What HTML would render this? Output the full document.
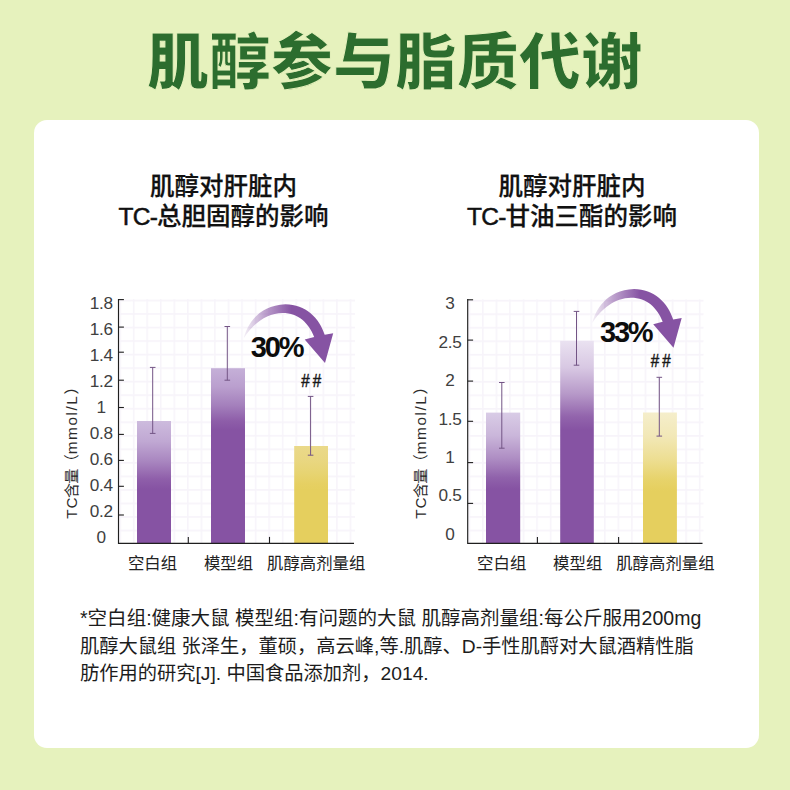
<!DOCTYPE html>
<html lang="zh-CN">
<head>
<meta charset="utf-8">
<title>肌醇参与脂质代谢</title>
<style>
html,body{margin:0;padding:0;}
body{width:790px;height:790px;overflow:hidden;position:relative;background:#e6f2bd;font-family:"Liberation Sans","Noto Sans CJK SC",sans-serif;}
.card{position:absolute;left:34px;top:120.3px;width:725px;height:628px;border-radius:13px;background:#fff;}
h1{position:absolute;left:0;top:17.7px;width:790px;margin:0;padding-left:0.2px;box-sizing:border-box;text-align:center;font-size:61.8px;line-height:90px;font-weight:900;color:#2c6d2e;letter-spacing:0.2px;white-space:nowrap;-webkit-text-stroke:1px #e6f2bd;}
.sub{position:absolute;top:172.4px;-webkit-text-stroke:0.25px #111;width:300px;margin:0;text-align:center;font-size:24.5px;line-height:30px;font-weight:500;color:#111;white-space:nowrap;}
.sub .lat{-webkit-text-stroke:0.5px #111;letter-spacing:-0.7px;}
.sub.l{left:73.5px;}
.sub.r{left:422px;}
.note{position:absolute;left:80px;top:605px;width:660px;margin:0;font-size:19.25px;line-height:27.5px;color:#1c1c1c;white-space:nowrap;font-weight:400;}
.note .n1{font-size:19.53px;}
svg{position:absolute;left:0;top:0;}
svg text{font-family:"Liberation Sans","Noto Sans CJK SC",sans-serif;}
.tk{font-size:17.2px;fill:#404040;letter-spacing:-0.3px;}
.xl{font-size:16.4px;fill:#222;}
.yl{font-size:15.3px;fill:#2b2b2b;}
.pct{font-size:29px;font-weight:700;fill:#0d0d0d;letter-spacing:-2.2px;}
.hs{font-size:18.5px;fill:#1a1a1a;letter-spacing:3.8px;stroke:#1a1a1a;stroke-width:0.5px;}
</style>
</head>
<body>
<div class="card"></div>
<h1>肌醇参与脂质代谢</h1>
<p class="sub l">肌醇对肝脏内<br><span class="lat">TC-</span>总胆固醇的影响</p>
<p class="sub r">肌醇对肝脏内<br><span class="lat">TC-</span>甘油三酯的影响</p>
<svg width="790" height="790" viewBox="0 0 790 790">
<defs>
<pattern id="gridL" x="119.3" y="299.6" width="13.55" height="13.53" patternUnits="userSpaceOnUse"><path d="M0 0H13.55M0 0V13.53" stroke="#f7f4fa" stroke-width="3.2" fill="none"/></pattern>
<pattern id="gridR" x="468.5" y="299.8" width="13.55" height="13.52" patternUnits="userSpaceOnUse"><path d="M0 0H13.55M0 0V13.52" stroke="#f7f4fa" stroke-width="3.2" fill="none"/></pattern>
<filter id="soft" x="-5%" y="-5%" width="110%" height="110%"><feGaussianBlur stdDeviation="0.7"/></filter>
<linearGradient id="arrR" gradientUnits="userSpaceOnUse" x1="592" y1="0" x2="640" y2="0"><stop offset="0" stop-color="#8653a3" stop-opacity="0.08"/><stop offset="0.45" stop-color="#8653a3" stop-opacity="0.55"/><stop offset="1" stop-color="#8653a3" stop-opacity="1"/></linearGradient>
<linearGradient id="arrL" gradientUnits="userSpaceOnUse" x1="592" y1="0" x2="640" y2="0"><stop offset="0" stop-color="#8653a3" stop-opacity="0.08"/><stop offset="0.45" stop-color="#8653a3" stop-opacity="0.55"/><stop offset="1" stop-color="#8653a3" stop-opacity="1"/></linearGradient>
<linearGradient id="bL0" gradientUnits="userSpaceOnUse" x1="0" y1="421" x2="0" y2="489"><stop offset="0" stop-color="#cdbbdd"/><stop offset="0.3" stop-color="#c0a8d3"/><stop offset="0.6" stop-color="#a885bf"/><stop offset="0.85" stop-color="#8f5faa"/><stop offset="1" stop-color="#8653a3"/></linearGradient>
<linearGradient id="bL1" gradientUnits="userSpaceOnUse" x1="0" y1="368.2" x2="0" y2="430"><stop offset="0" stop-color="#c5b0d8"/><stop offset="0.3" stop-color="#ba9fce"/><stop offset="0.6" stop-color="#a480bc"/><stop offset="0.85" stop-color="#8e5ea9"/><stop offset="1" stop-color="#8653a3"/></linearGradient>
<linearGradient id="bL2" gradientUnits="userSpaceOnUse" x1="0" y1="446" x2="0" y2="490"><stop offset="0" stop-color="#ead98a"/><stop offset="0.3" stop-color="#e9d782"/><stop offset="0.6" stop-color="#e7d473"/><stop offset="0.85" stop-color="#e6d063"/><stop offset="1" stop-color="#e5cf5e"/></linearGradient>
<linearGradient id="bR0" gradientUnits="userSpaceOnUse" x1="0" y1="412.6" x2="0" y2="489"><stop offset="0" stop-color="#d9cce6"/><stop offset="0.3" stop-color="#cab6da"/><stop offset="0.6" stop-color="#ae8dc3"/><stop offset="0.85" stop-color="#9062ab"/><stop offset="1" stop-color="#8653a3"/></linearGradient>
<linearGradient id="bR1" gradientUnits="userSpaceOnUse" x1="0" y1="340.8" x2="0" y2="430"><stop offset="0" stop-color="#eae2f1"/><stop offset="0.3" stop-color="#d8c8e3"/><stop offset="0.6" stop-color="#b698c8"/><stop offset="0.85" stop-color="#9264ac"/><stop offset="1" stop-color="#8653a3"/></linearGradient>
<linearGradient id="bR2" gradientUnits="userSpaceOnUse" x1="0" y1="412.5" x2="0" y2="491"><stop offset="0" stop-color="#f5eecb"/><stop offset="0.3" stop-color="#f2e8b7"/><stop offset="0.6" stop-color="#edde92"/><stop offset="0.85" stop-color="#e7d36b"/><stop offset="1" stop-color="#e5cf5e"/></linearGradient>
</defs>
<g>
<rect x="118.5" y="299.1" width="236.5" height="244.29999999999995" fill="url(#gridL)" filter="url(#soft)"/>
<rect x="137" y="421" width="34.0" height="122.4" fill="url(#bL0)"/>
<rect x="211" y="368.2" width="34.0" height="175.2" fill="url(#bL1)"/>
<rect x="294.2" y="446" width="33.8" height="97.4" fill="url(#bL2)"/>
<path d="M118.5 298.90000000000003V543.4H354" fill="none" stroke="#1f1f1f" stroke-width="1.15"/>
<path d="M118.5 299.6h5.4" stroke="#1f1f1f" stroke-width="1.1"/>
<path d="M118.5 327.1h5.4" stroke="#1f1f1f" stroke-width="1.1"/>
<path d="M118.5 352.2h5.4" stroke="#1f1f1f" stroke-width="1.1"/>
<path d="M118.5 380.2h5.4" stroke="#1f1f1f" stroke-width="1.1"/>
<path d="M118.5 407.5h5.4" stroke="#1f1f1f" stroke-width="1.1"/>
<path d="M118.5 434.4h5.4" stroke="#1f1f1f" stroke-width="1.1"/>
<path d="M118.5 460.4h5.4" stroke="#1f1f1f" stroke-width="1.1"/>
<path d="M118.5 486.3h5.4" stroke="#1f1f1f" stroke-width="1.1"/>
<path d="M118.5 515h5.4" stroke="#1f1f1f" stroke-width="1.1"/>
<path d="M188.3 543.4v-6.5" stroke="#1f1f1f" stroke-width="1.1"/>
<path d="M269.5 543.4v-6.5" stroke="#1f1f1f" stroke-width="1.1"/>
<path d="M152.7 367.4V433.4M149.89999999999998 367.4h5.6M149.89999999999998 433.4h5.6" stroke="#735485" stroke-width="1" fill="none"/>
<path d="M227.3 326.5V380.2M224.5 326.5h5.6M224.5 380.2h5.6" stroke="#735485" stroke-width="1" fill="none"/>
<path d="M310.6 396.4V455.2M307.8 396.4h5.6M307.8 455.2h5.6" stroke="#735485" stroke-width="1" fill="none"/>
<text x="101.2" y="308.85" text-anchor="middle" class="tk">1.8</text>
<text x="101.2" y="334.85" text-anchor="middle" class="tk">1.6</text>
<text x="101.2" y="360.85" text-anchor="middle" class="tk">1.4</text>
<text x="101.2" y="386.85" text-anchor="middle" class="tk">1.2</text>
<text x="101.2" y="412.85" text-anchor="middle" class="tk">1</text>
<text x="101.2" y="438.85" text-anchor="middle" class="tk">0.8</text>
<text x="101.2" y="464.85" text-anchor="middle" class="tk">0.6</text>
<text x="101.2" y="490.85" text-anchor="middle" class="tk">0.4</text>
<text x="101.2" y="516.85" text-anchor="middle" class="tk">0.2</text>
<text x="101.2" y="542.85" text-anchor="middle" class="tk">0</text>
<text x="152.5" y="569.2" text-anchor="middle" class="xl">空白组</text>
<text x="228.5" y="569.2" text-anchor="middle" class="xl">模型组</text>
<text x="316.2" y="569.2" text-anchor="middle" class="xl">肌醇高剂量组</text>
<text transform="translate(76.8,518.8) rotate(-90)" class="yl"><tspan letter-spacing="0.9">T</tspan><tspan letter-spacing="-0.5">C</tspan><tspan letter-spacing="-1.1">含量</tspan><tspan letter-spacing="0">（</tspan><tspan letter-spacing="1.6">mmol/L</tspan>）</text>
<path transform="translate(-348.5,15.2)" fill="url(#arrL)" d="M592.3 323C595 311 606 290 634 289C654 289 668 303 673.2 319.5L681.7 318L673.5 347.8L653.2 324.3L662.7 321.8C657.5 308 647 297.7 631 297.7C615 297.7 601 309 592.3 323Z"/>
<text x="250.8" y="357" class="pct">30%</text>
<text transform="translate(301.2,386.8) scale(0.82,1)" class="hs">##</text>
</g>
<g>
<rect x="467.7" y="299.3" width="235.8" height="244.09999999999997" fill="url(#gridR)" filter="url(#soft)"/>
<rect x="486" y="412.6" width="34.2" height="130.8" fill="url(#bR0)"/>
<rect x="560.2" y="340.8" width="33.6" height="202.6" fill="url(#bR1)"/>
<rect x="643" y="412.5" width="33.9" height="130.9" fill="url(#bR2)"/>
<path d="M467.7 299.1V543.4H702.5" fill="none" stroke="#1f1f1f" stroke-width="1.15"/>
<path d="M467.7 299.8h5.4" stroke="#1f1f1f" stroke-width="1.1"/>
<path d="M467.7 340.1h5.4" stroke="#1f1f1f" stroke-width="1.1"/>
<path d="M467.7 381.1h5.4" stroke="#1f1f1f" stroke-width="1.1"/>
<path d="M467.7 421.3h5.4" stroke="#1f1f1f" stroke-width="1.1"/>
<path d="M467.7 462.6h5.4" stroke="#1f1f1f" stroke-width="1.1"/>
<path d="M467.7 503.4h5.4" stroke="#1f1f1f" stroke-width="1.1"/>
<path d="M537.4 543.4v-6.5" stroke="#1f1f1f" stroke-width="1.1"/>
<path d="M618.6 543.4v-6.5" stroke="#1f1f1f" stroke-width="1.1"/>
<path d="M501.8 382.5V448.2M499.0 382.5h5.6M499.0 448.2h5.6" stroke="#735485" stroke-width="1" fill="none"/>
<path d="M576.5 311.4V365.2M573.7 311.4h5.6M573.7 365.2h5.6" stroke="#735485" stroke-width="1" fill="none"/>
<path d="M659.3 377.3V436.1M656.5 377.3h5.6M656.5 436.1h5.6" stroke="#735485" stroke-width="1" fill="none"/>
<text x="450.0" y="309.35" text-anchor="middle" class="tk">3</text>
<text x="450.0" y="347.75" text-anchor="middle" class="tk">2.5</text>
<text x="450.0" y="386.15" text-anchor="middle" class="tk">2</text>
<text x="450.0" y="424.55" text-anchor="middle" class="tk">1.5</text>
<text x="450.0" y="462.95" text-anchor="middle" class="tk">1</text>
<text x="450.0" y="501.35" text-anchor="middle" class="tk">0.5</text>
<text x="450.0" y="539.75" text-anchor="middle" class="tk">0</text>
<text x="501.7" y="569.2" text-anchor="middle" class="xl">空白组</text>
<text x="577.7" y="569.2" text-anchor="middle" class="xl">模型组</text>
<text x="665.4" y="569.2" text-anchor="middle" class="xl">肌醇高剂量组</text>
<text transform="translate(425.8,518.8) rotate(-90)" class="yl"><tspan letter-spacing="0.9">T</tspan><tspan letter-spacing="-0.5">C</tspan><tspan letter-spacing="-1.1">含量</tspan><tspan letter-spacing="0">（</tspan><tspan letter-spacing="1.6">mmol/L</tspan>）</text>
<path transform="translate(0,0)" fill="url(#arrR)" d="M592.3 323C595 311 606 290 634 289C654 289 668 303 673.2 319.5L681.7 318L673.5 347.8L653.2 324.3L662.7 321.8C657.5 308 647 297.7 631 297.7C615 297.7 601 309 592.3 323Z"/>
<text x="600" y="342.2" class="pct">33%</text>
<text transform="translate(650.7,367.3) scale(0.82,1)" class="hs">##</text>
</g>
</svg>
<p class="note"><span class="n1">*空白组:健康大鼠 模型组:有问题的大鼠 肌醇高剂量组:每公斤服用200mg</span><br>肌醇大鼠组 张泽生，董硕，高云峰,等.肌醇、D-手性肌酹对大鼠酒精性脂<br>肪作用的研究[J]. 中国食品添加剂，2014.</p>
</body>
</html>
